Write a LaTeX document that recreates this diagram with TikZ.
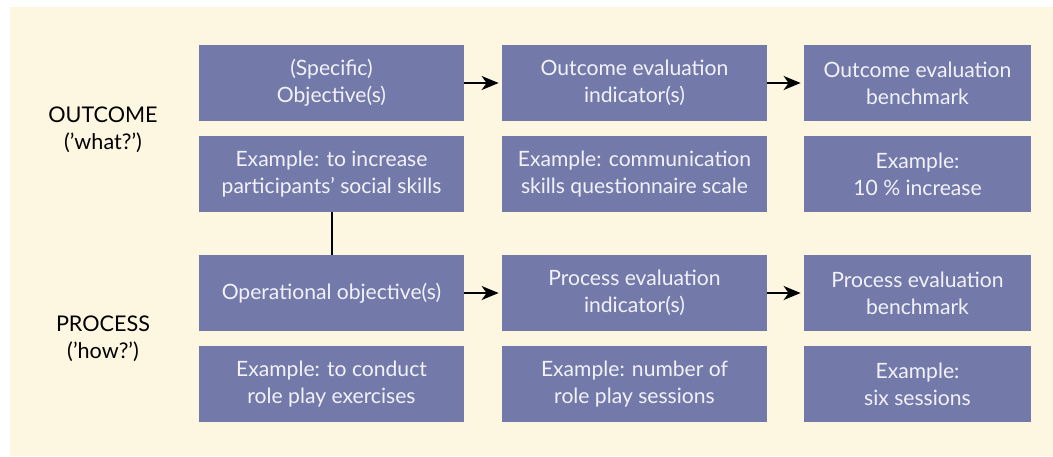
\documentclass[tikz,border=0pt]{standalone}
\usepackage{fontspec}
\setmainfont{Lato}
\usepackage{xcolor}
\usetikzlibrary{arrows.meta,positioning}

\definecolor{cream}{HTML}{FDF6E0}
\definecolor{boxblue}{HTML}{737AAA}
\definecolor{boxtext}{HTML}{F2F2FA}

\begin{document}
\begin{tikzpicture}[x=0.5pt,y=-0.5pt,
  box/.style={fill=boxblue, text=boxtext, minimum width=132.5pt,
    minimum height=38pt, inner sep=0pt, align=center,
    font=\fontsize{10.55}{13.5}\selectfont},
  narrowbox/.style={box, minimum width=113.5pt},
  side/.style={align=center, font=\fontsize{10.8}{13.5}\selectfont},
  link/.style={-{Stealth[length=8.5pt,width=7pt,inset=2.5pt]},
    line width=1pt, shorten >=1.5pt},
  plainlink/.style={line width=1pt}]
  \useasboundingbox (0,0) rectangle (1053,456);
  \fill[cream] (10,7) rectangle (1053,456);

  % outcome rows
  \node[box] (obj) at (331.5,83) {(Specific)\\Objective(s)};
  \node[box] (oind) at (634.5,83) {Outcome evaluation\\indicator(s)};
  \node[narrowbox] (obench) at (917.5,83) {Outcome evaluation\\benchmark};
  \node[box] (objex) at (331.5,174) {Example: to increase\\participants' social skills};
  \node[box] (oindex) at (634.5,174) {Example: communication\\skills questionnaire scale};
  \node[narrowbox] (obenchex) at (917.5,174) {Example:\\10 \% increase};

  % process rows
  \node[box] (op) at (331.5,293) {Operational objective(s)};
  \node[box] (pind) at (634.5,293) {Process evaluation\\indicator(s)};
  \node[narrowbox] (pbench) at (917.5,293) {Process evaluation\\benchmark};
  \node[box] (opex) at (331.5,384) {Example: to conduct\\role play exercises};
  \node[box] (pindex) at (634.5,384) {Example: number of\\role play sessions};
  \node[narrowbox] (pbenchex) at (917.5,384) {Example:\\six sessions};

  \node[side] (outcome) at (103,130) {OUTCOME\\('what?')};
  \node[side] (process) at (103,339) {PROCESS\\('how?')};

  \draw[link] (obj) -- (oind);
  \draw[link] (oind) -- (obench);
  \draw[link] (op) -- (pind);
  \draw[link] (pind) -- (pbench);
  \draw[plainlink] (objex) -- (op);
\end{tikzpicture}
\end{document}
